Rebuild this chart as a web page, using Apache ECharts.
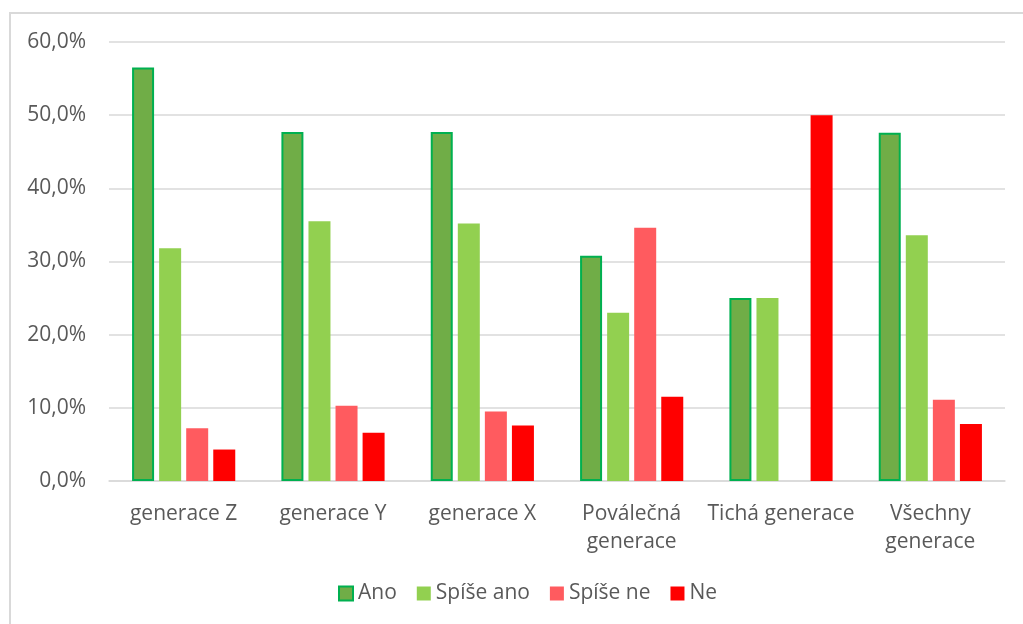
<!DOCTYPE html>
<html>
<head>
<meta charset="utf-8">
<script src="https://cdn.jsdelivr.net/npm/echarts@6/dist/echarts.min.js"></script>
<style>
html,body{margin:0;padding:0;background:#fff;}
#chart{width:1023px;height:624px;}
</style>
</head>
<body>
<div id="chart"></div>
<script>
const categories = ['generace Z', 'generace Y', 'generace X', 'Poválečná\ngenerace', 'Tichá generace', 'Všechny\ngenerace'];
const seriesNames = ['Ano', 'Spíše ano', 'Spíše ne', 'Ne'];
const ano = [56.5, 47.7, 47.7, 30.8, 25.0, 47.6];
const spiseAno = [31.8, 35.5, 35.2, 23.0, 25.0, 33.6];
const spiseNe = [7.2, 10.3, 9.5, 34.6, 0, 11.1];
const ne = [4.3, 6.6, 7.6, 11.5, 50.0, 7.8];

const font = '"Open Sans", "Liberation Sans", sans-serif';
const chart = echarts.init(document.getElementById('chart'), null, {renderer: 'canvas'});
const mk = (name, data, color, border) => ({
  name: name,
  type: 'bar',
  data: data,
  barWidth: 22,
  barGap: '23%',
  itemStyle: border ? {color: color, borderColor: border, borderWidth: 2} : {color: color},
  emphasis: {disabled: true}
});
chart.setOption({
  animation: false,
  backgroundColor: '#ffffff',
  textStyle: {fontFamily: font},
  graphic: [{
    type: 'rect',
    shape: {x: 10, y: 13, width: 1100, height: 700},
    style: {fill: 'none', stroke: '#D9D9D9', lineWidth: 2},
    silent: true
  }],
  grid: {left: 109, right: 18, top: 42, height: 439, containLabel: false},
  xAxis: {
    type: 'category',
    data: categories,
    axisLine: {show: true, lineStyle: {color: '#D9D9D9', width: 1.5}},
    axisTick: {show: false},
    axisLabel: {color: '#595959', fontSize: 21, fontFamily: font, lineHeight: 28, margin: 19, interval: 0}
  },
  yAxis: {
    type: 'value',
    min: 0,
    max: 60,
    interval: 10,
    axisLine: {show: false},
    axisTick: {show: false},
    splitLine: {lineStyle: {color: '#D9D9D9', width: 1.5}},
    axisLabel: {
      color: '#595959', fontSize: 21, fontFamily: font, margin: 23,
      formatter: v => v.toFixed(1).replace('.', ',') + '%'
    }
  },
  legend: {
    data: seriesNames,
    top: 578,
    left: 333,
    itemWidth: 14,
    itemHeight: 14,
    itemGap: 20,
    icon: 'rect',
    textStyle: {color: '#595959', fontSize: 21, fontFamily: font, padding: [0, 0, 0, 0]}
  },
  series: [
    mk(seriesNames[0], ano, '#70AD47', '#00B050'),
    mk(seriesNames[1], spiseAno, '#92D050'),
    mk(seriesNames[2], spiseNe, '#FF5B5F'),
    mk(seriesNames[3], ne, '#FF0000')
  ]
});
</script>
</body>
</html>
